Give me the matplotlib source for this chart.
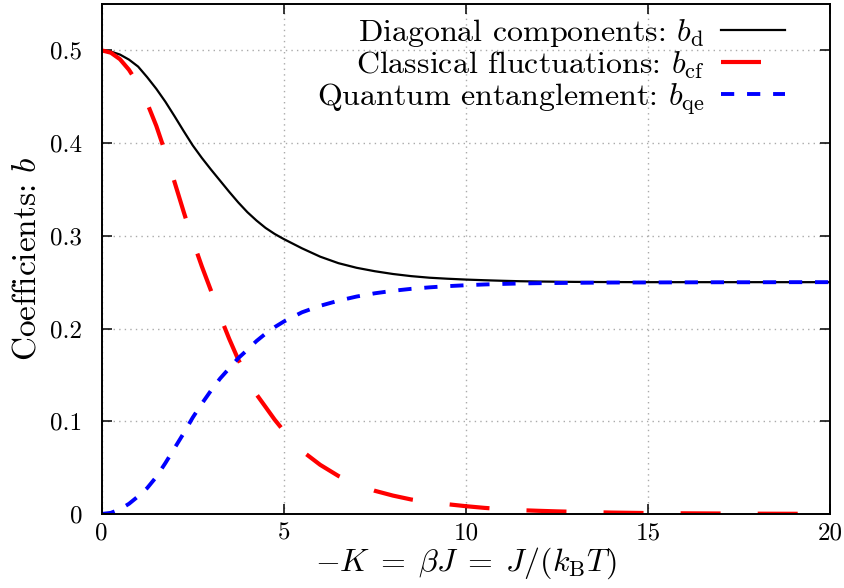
import matplotlib
matplotlib.use('Agg')
import matplotlib.pyplot as plt

plt.rcParams['font.family'] = ['cmr10', 'DejaVu Serif']
plt.rcParams['mathtext.fontset'] = 'cm'
plt.rcParams['axes.formatter.use_mathtext'] = True

# values
x_d = [0, 0.25, 0.5, 0.75, 1.0, 1.25, 1.5, 1.75, 2.0, 2.25, 2.5, 2.75, 3.0,
       3.25, 3.5, 3.75, 4.0, 4.25, 4.5, 4.75, 5.0, 5.5, 6.0, 6.5, 7.0, 7.5,
       8.0, 8.5, 9.0, 9.5, 10, 10.5, 11, 11.5, 12, 13, 14, 15, 20]
b_d = [0.5, 0.4987, 0.4955, 0.490, 0.4825, 0.471, 0.4585, 0.4445, 0.429,
       0.413, 0.3975, 0.384, 0.3715, 0.3595, 0.3475, 0.336, 0.3255, 0.3165,
       0.3085, 0.302, 0.2965, 0.2865, 0.2775, 0.2705, 0.2655, 0.2618, 0.2588,
       0.2565, 0.2548, 0.2537, 0.2528, 0.2521, 0.2515, 0.2510, 0.2507, 0.2503,
       0.2501, 0.25, 0.25]

x_cf = [0, 0.25, 0.5, 0.75, 1.0, 1.25, 1.5, 1.75, 2.0, 2.25, 2.5, 2.75, 3.0,
        3.25, 3.5, 3.75, 4.0, 4.25, 4.5, 4.75, 5.0, 5.5, 6.0, 6.5, 7.0, 7.5,
        8.0, 8.5, 9.0, 9.5, 10, 10.5, 11, 11.5, 12, 12.5, 13, 14, 15, 16, 17,
        18, 19, 20]
b_cf = [0.5, 0.4975, 0.4905, 0.479, 0.4635, 0.443, 0.4185, 0.3895, 0.358,
        0.326, 0.295, 0.267, 0.241, 0.2135, 0.189, 0.1665, 0.1477, 0.129,
        0.1154, 0.1017, 0.0896, 0.068, 0.053, 0.041, 0.032, 0.025, 0.0198,
        0.0156, 0.0128, 0.0105, 0.0084, 0.0066, 0.0052, 0.0041, 0.0034, 0.0028,
        0.0023, 0.0015, 0.001, 0.0007, 0.0005, 0.0003, 0.0002, 0.0001]

x_qe = [0, 0.25, 0.5, 0.75, 1.0, 1.25, 1.5, 1.75, 2.0, 2.25, 2.5, 2.75, 3.0,
        3.25, 3.5, 3.75, 4.0, 4.25, 4.5, 4.75, 5.0, 5.5, 6.0, 6.5, 7.0, 7.5,
        8.0, 8.5, 9.0, 9.5, 10, 10.5, 11, 11.5, 12, 13, 14, 15, 16, 17, 18,
        19, 20]
b_qe = [0, 0.0012, 0.005, 0.011, 0.019, 0.028, 0.040, 0.055, 0.071, 0.087,
        0.104, 0.119, 0.133, 0.146, 0.157, 0.168, 0.177, 0.1865, 0.1945,
        0.2015, 0.2075, 0.2175, 0.2245, 0.2300, 0.2345, 0.2380, 0.2407, 0.2428,
        0.2444, 0.2457, 0.2467, 0.2475, 0.2481, 0.2486, 0.2489, 0.2493, 0.2496,
        0.2497, 0.2498, 0.2499, 0.2499, 0.25, 0.25]

x_ticks = [0, 5, 10, 15, 20]
y_ticks = [0, 0.1, 0.2, 0.3, 0.4, 0.5]
y_labels = ['0', '0.1', '0.2', '0.3', '0.4', '0.5']

fig = plt.figure(figsize=(8.44, 5.88), dpi=100)
ax = fig.add_axes([0.1205, 0.1259, 0.8629, 0.8673])

ax.plot(x_d, b_d, color='black', lw=1.6,
        label=r'Diagonal components: $b_\mathrm{d}$')
ax.plot(x_cf, b_cf, color='#ff0000', lw=3.0, dashes=(9.6, 8.9),
        label=r'Classical fluctuations: $b_\mathrm{cf}$')
ax.plot(x_qe, b_qe, color='#0000ff', lw=2.8, dashes=(3.4, 3.3),
        label=r'Quantum entanglement: $b_\mathrm{qe}$')

ax.set_xlim(0, 20)
ax.set_ylim(0, 0.55)
ax.set_xticks(x_ticks)
ax.set_xticklabels([str(v) for v in x_ticks])
ax.set_yticks(y_ticks)
ax.set_yticklabels(y_labels)
ax.tick_params(direction='in', top=True, right=True, length=7, width=1.1,
               labelsize=18)
ax.tick_params(axis='y', pad=14)
ax.tick_params(axis='x', pad=6)
for s in ax.spines.values():
    s.set_linewidth(1.4)

ax.grid(True, color='#aaaaaa', lw=1.0, linestyle=(0, (1, 3)))

ax.set_xlabel(r'$-K \;=\; \beta J \;=\; J/(k_\mathrm{B}T)$', fontsize=23,
              labelpad=1)
ax.set_ylabel(r'Coefficients: $b$', fontsize=24, labelpad=6)

ax.legend(loc='upper right', bbox_to_anchor=(0.938, 0.975), frameon=False,
          markerfirst=False, fontsize=23, handlelength=2.0, handletextpad=0.5,
          labelspacing=0.02, borderpad=0, borderaxespad=0)

plt.savefig('out.png', dpi=100)
